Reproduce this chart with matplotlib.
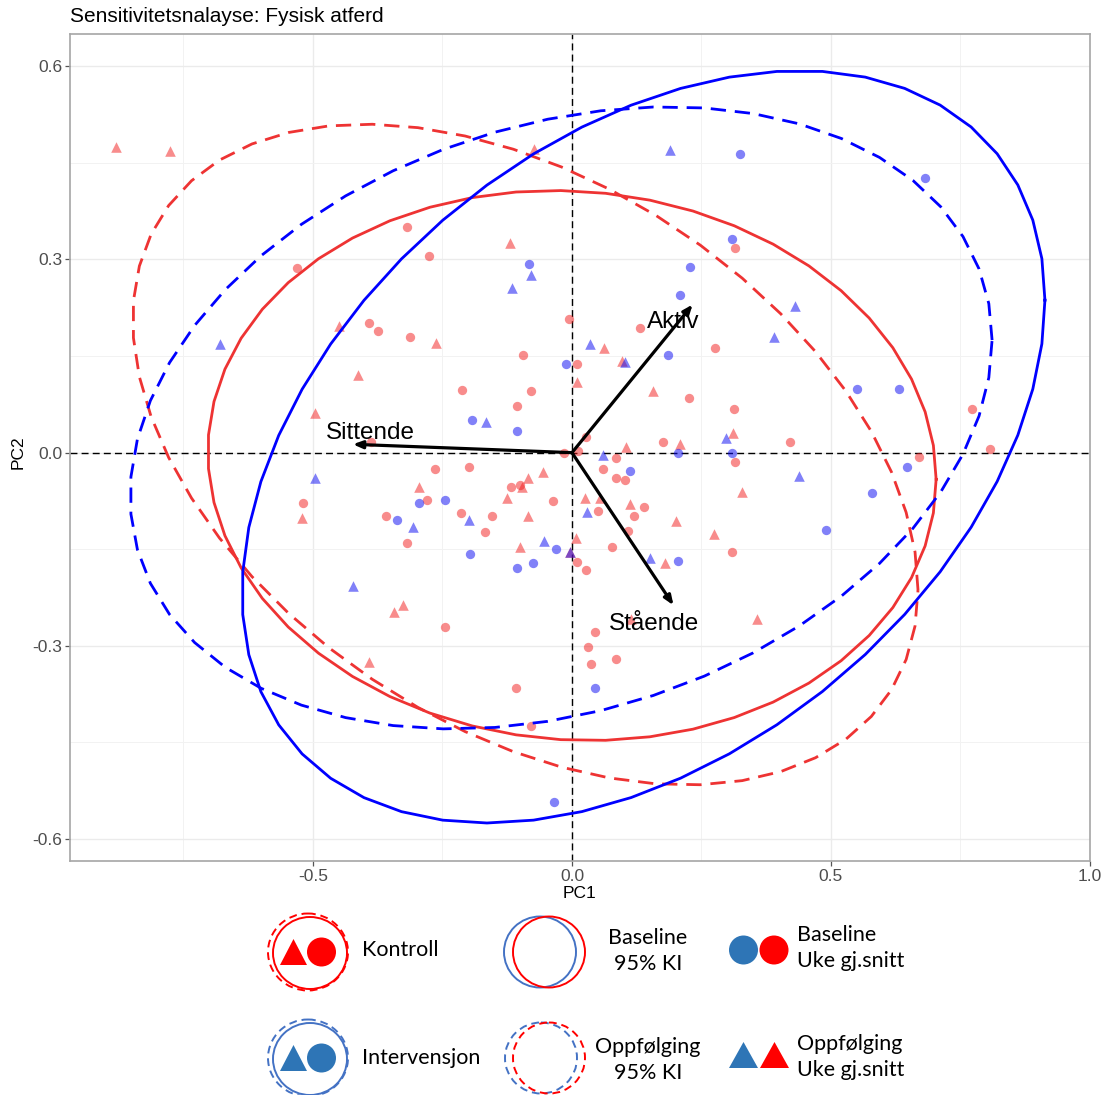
# ======================================================================
# SECTION 1: IMPORTS
# ======================================================================
import numpy as np
import matplotlib
matplotlib.use("Agg")
import matplotlib.pyplot as plt
from matplotlib.patches import Ellipse, Circle, Polygon

plt.rcParams["font.family"] = ["Liberation Sans", "DejaVu Sans"]
plt.rcParams["axes.unicode_minus"] = False


# ======================================================================
# SECTION 2: DATA (PCA scores)
# ======================================================================
# Kontroll, baseline (red circles)
kb_pc1 = [-0.531, -0.319, -0.276, -0.392, -0.375, -0.313, -0.212, -0.388, -0.095, -0.079,
          -0.106, -0.264, -0.199, -0.118, -0.100, -0.280, -0.519, -0.037, -0.359, -0.214,
          -0.154, -0.168, -0.319, -0.245, -0.108, -0.079, -0.006, 0.010, 0.131, 0.276,
          0.226, 0.313, 0.027, 0.176, -0.015, 0.012, 0.085, 0.421, 0.772, 0.807,
          0.670, 0.315, 0.060, 0.085, 0.102, 0.139, 0.050, 0.120, 0.108, 0.077,
          0.309, 0.010, 0.027, 0.044, 0.031, 0.037, 0.085, 0.315]
kb_pc2 = [0.286, 0.351, 0.306, 0.202, 0.189, 0.180, 0.098, 0.016, 0.151, 0.096,
          0.073, -0.026, -0.023, -0.053, -0.050, -0.073, -0.078, -0.075, -0.098, -0.093,
          -0.099, -0.123, -0.140, -0.270, -0.366, -0.425, 0.208, 0.137, 0.193, 0.163,
          0.085, 0.068, 0.025, 0.016, 0.000, 0.003, -0.009, 0.017, 0.067, 0.005,
          -0.006, -0.014, -0.025, -0.039, -0.043, -0.085, -0.090, -0.098, -0.121, -0.147,
          -0.154, -0.169, -0.182, -0.278, -0.301, -0.328, -0.321, 0.318]

# Kontroll, oppfølging (red triangles)
ko_pc1 = [-0.880, -0.776, -0.073, -0.120, -0.450, -0.263, -0.413, -0.496, -0.521, -0.295,
          -0.056, -0.085, -0.097, -0.125, -0.085, -0.100, -0.326, -0.344, -0.392, 0.062,
          0.097, 0.010, 0.156, 0.208, 0.104, 0.311, 0.328, 0.025, 0.054, 0.112,
          0.201, 0.274, 0.008, -0.004, 0.180, 0.114, 0.357]
ko_pc2 = [0.475, 0.469, 0.472, 0.326, 0.196, 0.171, 0.120, 0.061, -0.101, -0.054,
          -0.030, -0.039, -0.054, -0.070, -0.098, -0.147, -0.236, -0.247, -0.325, 0.163,
          0.143, 0.110, 0.096, 0.014, 0.009, 0.030, -0.061, -0.071, -0.071, -0.079,
          -0.106, -0.126, -0.132, -0.155, -0.172, -0.259, -0.259]

# Intervensjon, baseline (blue circles)
ib_pc1 = [-0.083, -0.193, -0.106, -0.295, -0.245, -0.338, -0.197, -0.106, -0.075, -0.031,
          -0.035, -0.012, 0.044, 0.324, 0.681, 0.309, 0.228, 0.208, 0.185, 0.550,
          0.631, 0.205, 0.309, 0.647, 0.112, 0.579, 0.490, 0.205]
ib_pc2 = [0.293, 0.051, 0.034, -0.078, -0.073, -0.104, -0.157, -0.179, -0.171, -0.149,
          -0.542, 0.137, -0.365, 0.464, 0.427, 0.332, 0.289, 0.244, 0.152, 0.099,
          0.099, 0.000, 0.000, -0.022, -0.028, -0.062, -0.120, -0.168]

# Intervensjon, oppfølging (blue triangles)
io_pc1 = [-0.680, -0.079, -0.116, -0.166, -0.496, -0.307, -0.199, -0.054, -0.423, 0.189,
          0.430, 0.390, 0.035, 0.102, 0.297, 0.060, 0.438, 0.029, -0.004, 0.151]
io_pc2 = [0.169, 0.276, 0.256, 0.048, -0.039, -0.115, -0.104, -0.137, -0.207, 0.470,
          0.227, 0.180, 0.168, 0.141, 0.022, -0.003, -0.037, -0.092, -0.155, -0.163]

# 95% ellipses: centre, half-extent along PC1/PC2, correlation
ell_names = ["Kontroll baseline", "Kontroll oppfølging",
             "Intervensjon baseline", "Intervensjon oppfølging"]
ell_cx = [0.000, -0.090, 0.138, -0.021]
ell_cy = [-0.020, -0.003, 0.009, 0.054]
ell_hx = [0.703, 0.758, 0.775, 0.832]
ell_hy = [0.427, 0.513, 0.584, 0.483]
ell_r = [-0.05, -0.41, 0.39, 0.25]

# variable loadings
load_names = ["Aktiv", "Sittende", "Stående"]
load_pc1 = [0.233, -0.423, 0.196]
load_pc2 = [0.230, 0.013, -0.237]
label_pc1 = [0.195, -0.389, 0.159]
label_pc2 = [0.203, 0.031, -0.266]


# ======================================================================
# SECTION 3: HELPERS
# ======================================================================
def ellipse_xy(cx, cy, hx, hy, r, segments=51):
    """Same construction as ggplot stat_ellipse (unit circle through chol)."""
    t = np.linspace(0, 2 * np.pi, segments + 1)
    x = cx + hx * np.cos(t)
    y = cy + hy * (r * np.cos(t) + np.sqrt(1 - r ** 2) * np.sin(t))
    return x, y


def tri(cx, base_y, w, h):
    return [(cx - w / 2, base_y), (cx + w / 2, base_y), (cx, base_y - h)]


# ======================================================================
# SECTION 4: MAIN PANEL
# ======================================================================
W, H = 1104, 1095
fig = plt.figure(figsize=(W / 100, H / 100), dpi=100)
fig.patch.set_facecolor("white")

ax = fig.add_axes([70 / W, 1 - 861 / H, 1020 / W, 827 / H])
ax.set_xlim(-0.969, 1.0)
ax.set_ylim(-0.634, 0.650)

ax.set_xticks([-0.5, 0.0, 0.5, 1.0])
ax.set_xticklabels(["-0.5", "0.0", "0.5", "1.0"])
ax.set_yticks([-0.6, -0.3, 0.0, 0.3, 0.6])
ax.set_yticklabels(["-0.6", "-0.3", "0.0", "0.3", "0.6"])
ax.set_xticks([-0.75, -0.25, 0.25, 0.75], minor=True)
ax.set_yticks([-0.45, -0.15, 0.15, 0.45], minor=True)
ax.grid(which="major", color="#EBEBEB", linewidth=1.0, zorder=0)
ax.grid(which="minor", color="#F2F2F2", linewidth=0.7, zorder=0)
ax.set_axisbelow(True)
ax.tick_params(which="major", length=3.5, width=0.9, color="#555555",
               labelsize=12.5, labelcolor="#4D4D4D", pad=2)
ax.tick_params(which="minor", length=0)
for sp in ax.spines.values():
    sp.set_color("#A6A6A6")
    sp.set_linewidth(1.2)

ax.axhline(0, color="black", linewidth=1.0, linestyle=(0, (5, 3)), zorder=1)
ax.axvline(0, color="black", linewidth=1.0, linestyle=(0, (5, 3)), zorder=1)

red_pt = (0.95, 0.1, 0.1, 0.5)
blue_pt = (0.05, 0.05, 0.95, 0.52)
ax.scatter(kb_pc1, kb_pc2, s=45, marker="o", color=red_pt, linewidths=0, zorder=2)
ax.scatter(ko_pc1, ko_pc2, s=58, marker="^", color=red_pt, linewidths=0, zorder=2)
ax.scatter(ib_pc1, ib_pc2, s=45, marker="o", color=blue_pt, linewidths=0, zorder=2)
ax.scatter(io_pc1, io_pc2, s=58, marker="^", color=blue_pt, linewidths=0, zorder=2)

ell_col = ["#EE3333", "#EE3333", "#0000FF", "#0000FF"]
ell_ls = ["-", (0, (5.5, 3.2)), "-", (0, (5.5, 3.2))]
for i in range(len(ell_names)):
    ex, ey = ellipse_xy(ell_cx[i], ell_cy[i], ell_hx[i], ell_hy[i], ell_r[i])
    ax.plot(ex, ey, color=ell_col[i], linestyle=ell_ls[i], linewidth=2.0, zorder=3)

for i, name in enumerate(load_names):
    ax.annotate("", xy=(load_pc1[i], load_pc2[i]), xytext=(0, 0),
                arrowprops=dict(arrowstyle="-|>,head_length=0.55,head_width=0.22",
                                color="black", lw=2.3, shrinkA=0, shrinkB=0),
                zorder=4)
    ax.text(label_pc1[i], label_pc2[i], name, fontsize=17.5, color="black",
            ha="center", va="center", zorder=5)

fig.text(70 / W, 1 - 16 / H, "Sensitivitetsnalayse: Fysisk atferd",
         fontsize=15, ha="left", va="center")
fig.text(580 / W, 1 - 893 / H, "PC1", fontsize=12.5, ha="center", va="center")
fig.text(18 / W, 1 - 452 / H, "PC2", fontsize=12.5, ha="center", va="center",
         rotation=90)


# ======================================================================
# SECTION 5: HAND-DRAWN LEGEND (pixel coordinates)
# ======================================================================
lg = fig.add_axes([0, 0, 1, 190 / H])
lg.set_xlim(0, W)
lg.set_ylim(H, H - 190)
lg.axis("off")

RED = "#FF0000"
BLUE = "#2E75B6"
BLUE_LN = "#4472C4"
dash = (0, (4, 2.5))
lfont = dict(family=["Lato", "DejaVu Sans"], fontsize=15.5, color="black")

# Column 1: group key
for yc, col in [(953, RED), (1059, BLUE_LN)]:
    lg.add_patch(Ellipse((310, yc), 74, 72, fill=False, ec=col, lw=1.4))
    lg.add_patch(Ellipse((308, yc - 1), 80, 77, fill=False, ec=col, lw=1.4,
                         linestyle=dash))
for yc, col in [(952, RED), (1058, BLUE)]:
    lg.add_patch(Polygon(tri(293.5, yc + 13, 27, 26), closed=True, fc=col, ec="none"))
    lg.add_patch(Circle((321.5, yc), 14.5, fc=col, ec="none"))
lg.text(362, 950, "Kontroll", ha="left", va="center", **lfont)
lg.text(362, 1058, "Intervensjon", ha="left", va="center", **lfont)

# Column 2: ellipse key
lg.add_patch(Ellipse((540, 952), 72, 71, fill=False, ec=BLUE_LN, lw=1.4))
lg.add_patch(Ellipse((549, 952), 72, 71, fill=False, ec=RED, lw=1.4))
lg.add_patch(Ellipse((541, 1058), 72, 71, fill=False, ec=BLUE_LN, lw=1.4,
                     linestyle=dash))
lg.add_patch(Ellipse((549, 1058), 72, 71, fill=False, ec=RED, lw=1.4,
                     linestyle=dash))
lg.text(648, 951, "Baseline\n95% KI", ha="center", va="center",
        linespacing=1.35, **lfont)
lg.text(648, 1060, "Oppfølging\n95% KI", ha="center", va="center",
        linespacing=1.35, **lfont)

# Column 3: point key
lg.add_patch(Circle((743.5, 950), 14.5, fc=BLUE, ec="none"))
lg.add_patch(Circle((774, 950), 14.5, fc=RED, ec="none"))
lg.add_patch(Polygon(tri(743.5, 1068, 29, 26), closed=True, fc=BLUE, ec="none"))
lg.add_patch(Polygon(tri(774.5, 1068, 29, 26), closed=True, fc=RED, ec="none"))
lg.text(797, 948, "Baseline\nUke gj.snitt", ha="left", va="center",
        linespacing=1.35, **lfont)
lg.text(797, 1057, "Oppfølging\nUke gj.snitt", ha="left", va="center",
        linespacing=1.35, **lfont)

plt.savefig("out.png", dpi=100, facecolor="white")
